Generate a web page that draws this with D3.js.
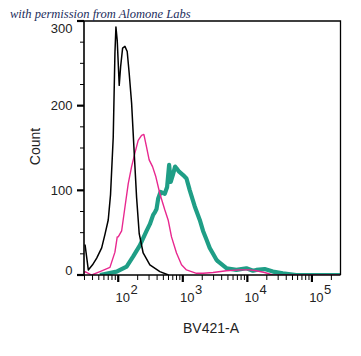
<!DOCTYPE html>
<html><head><meta charset="utf-8">
<script src="https://cdn.jsdelivr.net/npm/d3@7"></script>
<style>body{margin:0;background:#fff}svg{display:block}</style>
</head><body>
<script>
// ---- data ----
const blackX = [30.6, 34.4, 40, 46.4, 55.4, 62.3, 70, 76, 83.7, 88.9, 92.1, 96.5, 103.6, 108.9, 116.9, 127, 137.7, 147.9, 161.1, 174.9, 192.3, 211.2, 243.3, 309, 441.6, 600];
const blackY = [36, 6, 12, 20, 32, 48, 65, 95, 163, 262, 293, 277, 224, 246, 268, 270, 264, 238, 203, 151, 92, 49, 26, 12, 4, 0];

const pinkX = [29.5, 30.6, 38.8, 52.1, 74.4, 88.9, 96.5, 100, 112.9, 127, 142.9, 161.1, 181.1, 203.7, 230, 249.5, 274.6, 301.3, 340, 382.6, 441.6, 526, 592.9, 668.7, 799, 955, 1140, 1628, 2060, 2941, 4734, 7602, 10860, 13780, 18500, 24880, 277000];
const pinkY = [2, 4, 0, 4, 9, 27, 45, 45, 52, 80, 108, 128, 144, 159, 165, 166, 151, 136, 128, 116, 96, 77, 65, 45, 26, 12, 6, 2, 2, 3, 5, 6, 6, 5, 3, 0, 0];

const tealX = [52.1, 94.4, 134.9, 170.6, 216.3, 274.6, 309, 347.5, 369, 392, 415, 452, 526, 571.6, 614, 650, 700, 760, 800, 877, 1011, 1140, 1283, 1532, 1832, 2060, 2325, 2614, 2941, 3318, 3515, 4734, 6761, 9660, 12220, 13780, 18500, 24880, 35490, 57150, 277000];
const tealY = [0, 4, 10, 22, 35, 52, 60, 71, 74, 78, 90, 98, 96, 104, 130, 110, 118, 128, 126, 122, 118, 114, 100, 81, 65, 52, 42, 32, 25, 18, 16, 8, 6, 8, 5, 6, 7, 4, 2, 0, 0];

const yTicksMajor = [0, 100, 200, 300];
const yTicksMinor = [25, 50, 75, 125, 150, 175, 225, 250, 275];
const xTicksMajor = [100, 1000, 10000, 100000];
const xExponents = ["2", "3", "4", "5"];
const xLabel = "BV421-A";
const yLabel = "Count";
const credit = "with permission from Alomone Labs";

// ---- layout ----
const W = 361, H = 356;
const L = 84, R = 340.5, T = 21, B = 275;

const svg = d3.select("body").append("svg").attr("width", W).attr("height", H);

const x = d3.scaleLog().domain([29.5, 277000]).range([L, R]);
const y = d3.scaleLinear().domain([0, 300]).range([B, T]);

// minor x ticks: 2..9 x 10^k within domain
const xMinor = [];
[10, 100, 1000, 10000, 100000].forEach(d => {
  for (let k = 2; k <= 9; k++) { const v = d * k; if (v > 29.5 && v < 277000) xMinor.push(v); }
});

svg.append("defs").append("clipPath").attr("id", "clip")
  .append("rect").attr("x", L).attr("y", T - 5).attr("width", R - L).attr("height", B - T + 5);

const g = svg.append("g").attr("clip-path", "url(#clip)");

function series(xs, ys) { return xs.map((v, i) => [v, ys[i]]); }
const line = d3.line().x(d => x(d[0])).y(d => y(d[1]));

g.append("path").datum(series(tealX, tealY)).attr("d", line)
  .attr("fill", "none").attr("stroke", "#1f9e86").attr("stroke-width", 4.2).attr("stroke-linejoin", "round");
g.append("path").datum(series(pinkX, pinkY)).attr("d", line)
  .attr("fill", "none").attr("stroke", "#e8288f").attr("stroke-width", 1.4).attr("stroke-linejoin", "round");
g.append("path").datum(series(blackX, blackY)).attr("d", line)
  .attr("fill", "none").attr("stroke", "#000").attr("stroke-width", 1.5).attr("stroke-linejoin", "round");

// frame
svg.append("path").attr("d", `M${L},${T}H${R}V${B}`).attr("fill", "none").attr("stroke", "#000").attr("stroke-width", 1.3);
svg.append("line").attr("x1", L).attr("x2", L).attr("y1", T).attr("y2", B + 0.8).attr("stroke", "#000").attr("stroke-width", 1.6);
svg.append("line").attr("x1", L).attr("x2", R).attr("y1", B).attr("y2", B).attr("stroke", "#000").attr("stroke-width", 1.6);

// y ticks
svg.selectAll(".ymaj").data(yTicksMajor).enter().append("line")
  .attr("x1", L - 7).attr("x2", L).attr("y1", d => y(d)).attr("y2", d => y(d))
  .attr("stroke", "#000").attr("stroke-width", 2.2);
svg.selectAll(".ymin").data(yTicksMinor).enter().append("line")
  .attr("x1", L - 4).attr("x2", L).attr("y1", d => y(d)).attr("y2", d => y(d))
  .attr("stroke", "#000").attr("stroke-width", 1);
svg.selectAll(".ylab").data(yTicksMajor).enter().append("text")
  .attr("x", 72.5).attr("y", d => Math.min(270, Math.max(28, y(d))))
  .attr("dy", "0.35em").attr("text-anchor", "end")
  .attr("font-family", "Liberation Sans, Arial, sans-serif").attr("font-size", 13).attr("fill", "#222")
  .text(d => d);

// x ticks
svg.selectAll(".xmaj").data(xTicksMajor).enter().append("line")
  .attr("y1", B).attr("y2", B + 7).attr("x1", d => x(d)).attr("x2", d => x(d))
  .attr("stroke", "#000").attr("stroke-width", 2.2);
svg.selectAll(".xmin").data(xMinor).enter().append("line")
  .attr("y1", B).attr("y2", B + 5).attr("x1", d => x(d)).attr("x2", d => x(d))
  .attr("stroke", "#000").attr("stroke-width", 1);
const xl = svg.selectAll(".xlab").data(xTicksMajor).enter().append("text")
  .attr("x", d => x(d) - 2.8).attr("y", 302)
  .attr("font-family", "Liberation Sans, Arial, sans-serif").attr("font-size", 13).attr("fill", "#222");
xl.append("tspan").text("10");
xl.append("tspan").attr("dx", 0.5).attr("dy", -8).text((d, i) => xExponents[i]);

// axis titles
svg.append("text").attr("x", 211).attr("y", 333).attr("text-anchor", "middle")
  .attr("font-family", "Liberation Sans, Arial, sans-serif").attr("font-size", 14).attr("fill", "#222").text(xLabel);
svg.append("text").attr("transform", "translate(39.5,146.5) rotate(-90)").attr("text-anchor", "middle")
  .attr("font-family", "Liberation Sans, Arial, sans-serif").attr("font-size", 14).attr("fill", "#222").text(yLabel);

// credit
svg.append("text").attr("x", 10).attr("y", 17.5)
  .attr("font-family", "Liberation Serif, DejaVu Serif, serif").attr("font-style", "italic")
  .attr("font-size", 12.5).attr("fill", "#1c2d5c").text(credit);
</script>
</body></html>
